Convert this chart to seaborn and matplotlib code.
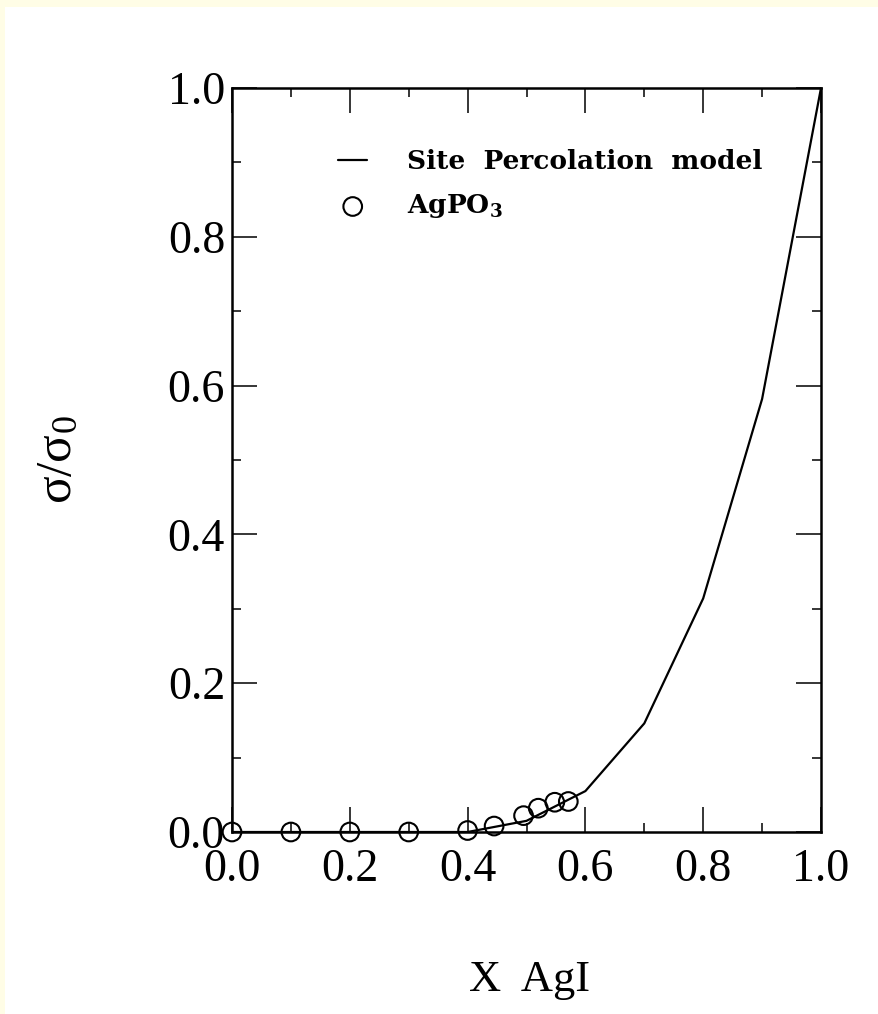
import matplotlib
matplotlib.use("Agg")
import matplotlib.pyplot as plt
import seaborn as sns
from matplotlib.patches import Rectangle
from matplotlib.ticker import MultipleLocator

# ---- data ----
x_model = [0.0, 0.1, 0.2, 0.3, 0.4, 0.5, 0.6, 0.7, 0.8, 0.9, 1.0]
y_model = [0.0, 0.0, 0.0, 0.0, 0.0, 0.015, 0.055, 0.146, 0.314, 0.582, 1.0]

x_data = [0.0, 0.1, 0.2, 0.3, 0.4, 0.445, 0.495, 0.52, 0.548, 0.571]
y_data = [0.0, 0.0, 0.0, 0.0, 0.002, 0.008, 0.022, 0.032, 0.040, 0.041]

x_ticks = [0.0, 0.2, 0.4, 0.6, 0.8, 1.0]
y_ticks = [0.0, 0.2, 0.4, 0.6, 0.8, 1.0]
tick_labels = ["0.0", "0.2", "0.4", "0.6", "0.8", "1.0"]

label_model = "Site  Percolation  model"
label_data = r"AgPO$_\mathbf{3}$"

sns.set_style("ticks")
plt.rcParams["font.family"] = ["Liberation Serif", "DejaVu Serif"]
plt.rcParams["mathtext.fontset"] = "dejavuserif"

fig = plt.figure(figsize=(8.79, 10.14), dpi=100, facecolor="#FFFDE6")
fig.patches.append(Rectangle((5 / 879, 0), 1, 1 - 7 / 1014, transform=fig.transFigure,
                             facecolor="white", edgecolor="none", zorder=-10))
ax = fig.add_axes([232 / 879, 1 - 832 / 1014, (821 - 232) / 879, (832 - 88) / 1014])

sns.lineplot(x=x_model, y=y_model, color="black", linewidth=1.6, ax=ax,
             label=label_model, zorder=3)
sns.scatterplot(x=x_data, y=y_data, marker="o", s=180, facecolor="none",
                edgecolor="black", linewidth=1.5, ax=ax, label=label_data, zorder=4,
                clip_on=False)

ax.set_xlim(0, 1)
ax.set_ylim(0, 1)
ax.set_xticks(x_ticks)
ax.set_xticklabels(tick_labels)
ax.set_yticks(y_ticks)
ax.set_yticklabels(tick_labels)
ax.xaxis.set_minor_locator(MultipleLocator(0.1))
ax.yaxis.set_minor_locator(MultipleLocator(0.1))
ax.tick_params(which="both", direction="in", top=True, right=True, colors="black")
ax.tick_params(which="major", length=18, width=1.1, labelsize=33)
ax.tick_params(which="minor", length=6.5, width=1.1)
ax.tick_params(axis="x", which="major", pad=12)
ax.tick_params(axis="y", which="major", pad=5)
for sp in ax.spines.values():
    sp.set_visible(True)
    sp.set_linewidth(1.8)
    sp.set_color("black")
ax.set_facecolor("white")

ax.set_xlabel("X  AgI", fontsize=32, color="black")
ax.xaxis.set_label_coords(0.505, -0.172)
ax.set_ylabel("$\\mathregular{σ/σ_0}$", fontsize=37, color="black")
ax.yaxis.set_label_coords(-0.255, 0.5)

leg = ax.legend(loc="upper left", bbox_to_anchor=(0.14, 0.95), frameon=False,
                prop={"family": "DejaVu Serif", "weight": "bold", "size": 19},
                handlelength=1.1, handletextpad=1.5, labelspacing=0.7)
for t in leg.get_texts():
    t.set_color("black")

fig.savefig("out.png", dpi=100, facecolor=fig.get_facecolor())
